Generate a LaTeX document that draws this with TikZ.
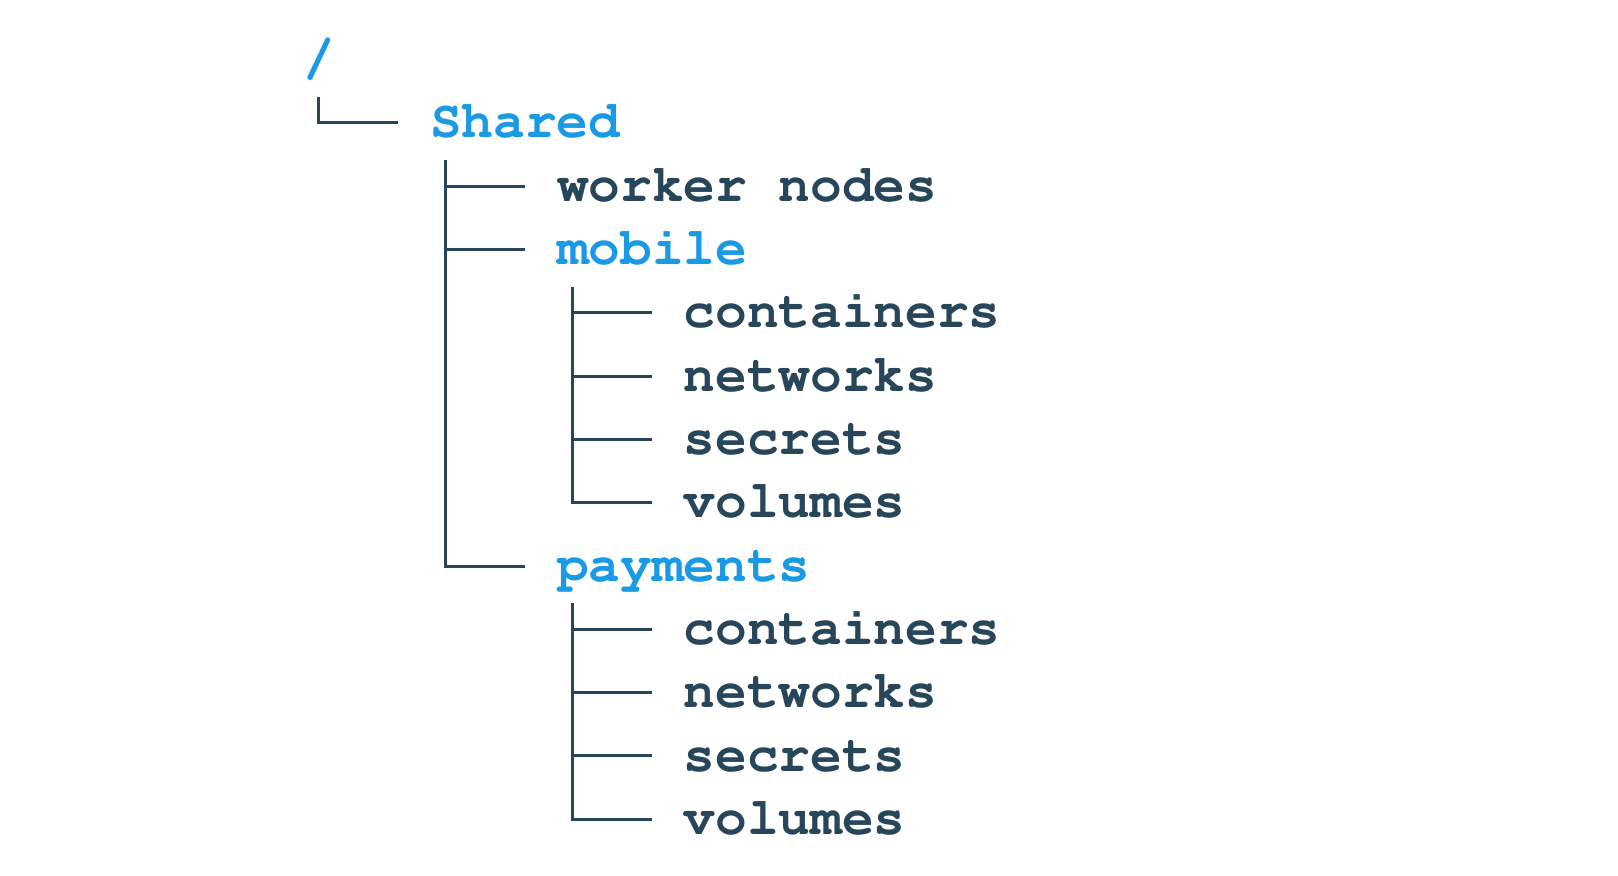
\documentclass[tikz,border=0pt]{standalone}
\usepackage[T1]{fontenc}
\usepackage{tikz}
\usetikzlibrary{positioning}
\definecolor{dirblue}{RGB}{26,154,228}
\definecolor{leafslate}{RGB}{40,70,90}

\begin{document}
\begin{tikzpicture}[
  x=0.5pt, y=-0.5pt,
  entry/.style={anchor=base west, inner sep=0pt,
                font=\fontfamily{pcr}\bfseries\fontsize{26.4}{30}\selectfont,
                text=leafslate},
  dir/.style={entry, text=dirblue},
  branch/.style={draw=leafslate, line width=1.5pt}
]
  \useasboundingbox (0,0) rectangle (1618,876);
  % directories
  \node[dir] (root) at (303,74.7) {/};
  \node[dir] (shared) at (429.8,138) {Shared};
  \node[entry] (worker) at (556.6,201.3) {worker nodes};
  \node[dir] (mobile) at (556.6,264.6) {mobile};
  \node[entry] (mcont) at (683.4,327.9) {containers};
  \node[entry] (mnet) at (683.4,391.2) {networks};
  \node[entry] (msec) at (683.4,454.5) {secrets};
  \node[entry] (mvol) at (683.4,517.8) {volumes};
  \node[dir] (payments) at (556.6,581.1) {payments};
  \node[entry] (pcont) at (683.4,644.4) {containers};
  \node[entry] (pnet) at (683.4,707.7) {networks};
  \node[entry] (psec) at (683.4,771) {secrets};
  \node[entry] (pvol) at (683.4,834.3) {volumes};
  % tree lines
  \foreach \p/\c in {root/shared, shared/worker, shared/mobile, shared/payments,
                     mobile/mcont, mobile/mnet, mobile/msec, mobile/mvol,
                     payments/pcont, payments/pnet, payments/psec, payments/pvol}
    \draw[branch] ([xshift=7.9pt,yshift=-11pt]\p.base west)
      |- ([xshift=-15.85pt,yshift=7.5pt]\c.base west);
\end{tikzpicture}
\end{document}
